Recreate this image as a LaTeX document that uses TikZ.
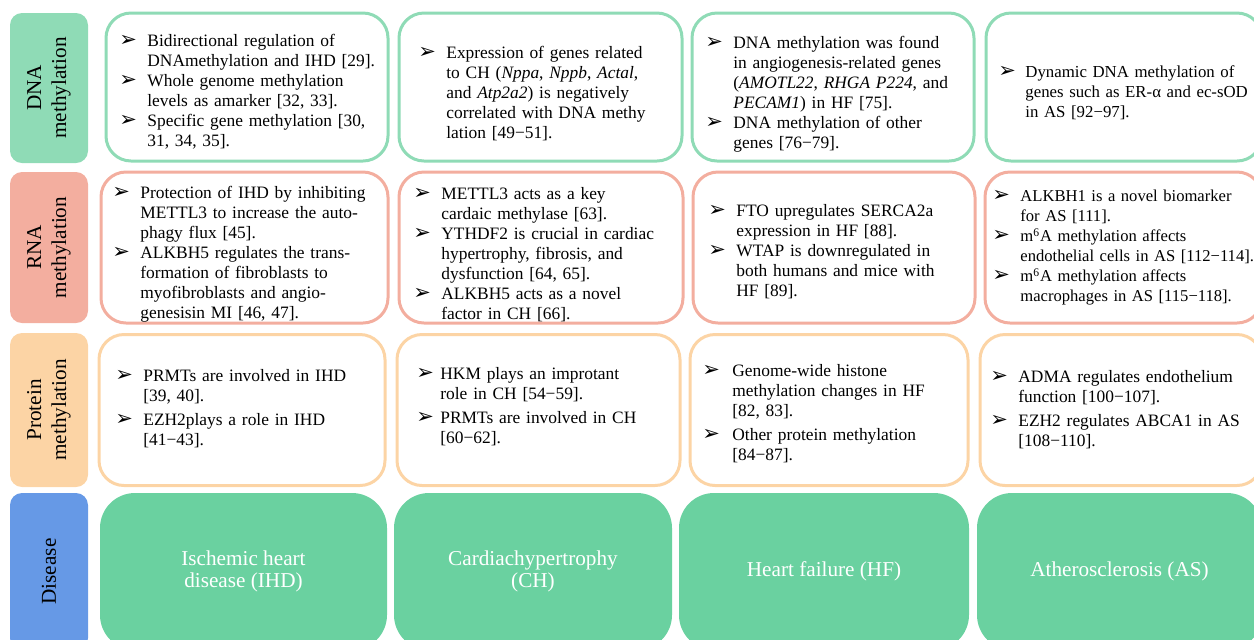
\documentclass[tikz,border=0pt]{standalone}
\usepackage{fontspec}
\setmainfont{Liberation Serif}
\newfontfamily\bulfont{DejaVu Sans}

\definecolor{dnagreen}{HTML}{8FDBB6}
\definecolor{rnared}{HTML}{F3AE9F}
\definecolor{protorange}{HTML}{FCD4A5}
\definecolor{disgreen}{HTML}{6AD1A0}
\definecolor{disblue}{HTML}{6699E6}

\newlength\bulind
\setlength\bulind{14pt}
\newlength\itmgap
\setlength\itmgap{0pt}
\newcommand\itm[1]{\par{\def\\{\hfil\break}\hangindent=\bulind\hangafter=1\noindent\makebox[\bulind][l]{\bulfont\fontsize{10.5}{10}\selectfont ➢}#1\par}\vskip\itmgap}

\begin{document}
\begin{tikzpicture}[x=0.5pt,y=-0.5pt,
    lab/.style={rotate=90, fill=#1, rounded corners=6pt, minimum height=39pt, inner sep=0, align=center, font=\fontsize{10.6}{12.5}\selectfont},
    cell/.style={draw=#1, line width=1.5pt, rounded corners=12.5pt, fill=white, inner sep=0},
    txt/.style={anchor=west, inner sep=0, text width=140pt, align=left, font=\fontsize{8.7}{10}\selectfont},
    ptxt/.style={txt, execute at begin node={\setlength\itmgap{2pt}\setlength\bulind{#1}}},
    dis/.style={fill=disgreen, rounded corners=17.5pt, inner sep=0, minimum height=78.5pt, text=white, align=center, font=\fontsize{10.6}{11}\selectfont}]
    \useasboundingbox (0,0) rectangle (1254,639);
    \clip (0,0) rectangle (1254,639);

    % row labels
    \node[lab=dnagreen, minimum width=75pt] (ldna) at (49,88) {DNA\\methylation};
    \node[lab=rnared, minimum width=75.5pt] (lrna) at (49,247.5) {RNA\\methylation};
    \node[lab=protorange, minimum width=77pt] (lprot) at (49,410) {Protein\\methylation};
    \node[lab=disblue, minimum width=78.5pt] (ldis) at (49,571.5) {Disease};

    % DNA methylation
    \node[cell=dnagreen, minimum width=141pt, minimum height=74pt] (d1) at (247,87) {};
    \node[cell=dnagreen, minimum width=141.5pt, minimum height=74pt] (d2) at (540.5,87) {};
    \node[cell=dnagreen, minimum width=141pt, minimum height=74pt] (d3) at (833,87) {};
    \node[cell=dnagreen, minimum width=138pt, minimum height=74pt] (d4) at (1124,87) {};
    \node[txt] (d1t) at (119,88) {\itm{Bidirectional regulation of\\DNAmethylation and IHD [29].}\itm{Whole genome methylation\\levels as amarker [32, 33].}\itm{Specific gene methylation [30,\\31, 34, 35].}};
    \node[txt] (d2t) at (418,89.5) {\itm{Expression of genes related\\to CH (\textit{Nppa}, \textit{Nppb}, \textit{Actal},\\and \textit{Atp2a2}) is negatively\\correlated with DNA methy\\lation [49−51].}};
    \node[txt] (d3t) at (705,90.5) {\itm{DNA methylation was found\\in angiogenesis-related genes\\(\textit{AMOTL22}, \textit{RHGA P224}, and\\\textit{PECAM1}) in HF [75].}\itm{DNA methylation of other\\genes [76−79].}};
    \node[txt, font=\fontsize{8.4}{10}\selectfont, execute at begin node={\setlength\bulind{13.5pt}}] (d4t) at (998,89) {\itm{Dynamic DNA methylation of\\genes such as ER-α and ec-sOD\\in AS [92−97].}};

    % RNA methylation
    \node[cell=rnared, minimum width=143.5pt, minimum height=75.5pt] (r1) at (244.5,247.5) {};
    \node[cell=rnared, minimum width=142pt, minimum height=75.5pt] (r2) at (541,247.5) {};
    \node[cell=rnared, minimum width=141pt, minimum height=75.5pt] (r3) at (834,247.5) {};
    \node[cell=rnared, minimum width=138.5pt, minimum height=75.5pt] (r4) at (1123.5,247.5) {};
    \node[txt] (r1t) at (112,250.5) {\itm{Protection of IHD by inhibiting\\METTL3 to increase the auto-\\phagy flux [45].}\itm{ALKBH5 regulates the trans-\\formation of fibroblasts to\\myofibroblasts and angio-\\genesisin MI [46, 47].}};
    \node[txt] (r2t) at (413,250.5) {\itm{METTL3 acts as a key\\cardaic methylase [63].}\itm{YTHDF2 is crucial in cardiac\\hypertrophy, fibrosis, and\\dysfunction [64, 65].}\itm{ALKBH5 acts as a novel\\factor in CH [66].}};
    \node[txt] (r3t) at (708,248) {\itm{FTO upregulates SERCA2a\\expression in HF [88].}\itm{WTAP is downregulated in\\both humans and mice with\\HF [89].}};
    \node[txt, font=\fontsize{8.3}{10}\selectfont] (r4t) at (992,243.5) {\itm{ALKBH1 is a novel biomarker\\for AS [111].}\itm{m\textsuperscript{6}A methylation affects\\endothelial cells in AS [112−114].}\itm{m\textsuperscript{6}A methylation affects\\macrophages in AS [115−118].}};

    % protein methylation
    \node[cell=protorange, minimum width=143pt, minimum height=75.5pt] (p1) at (242,410) {};
    \node[cell=protorange, minimum width=141.5pt, minimum height=75.5pt] (p2) at (538.5,410) {};
    \node[cell=protorange, minimum width=139pt, minimum height=75.5pt] (p3) at (829,410) {};
    \node[cell=protorange, minimum width=141pt, minimum height=75.5pt] (p4) at (1121,410) {};
    \node[ptxt=14pt] (p1t) at (115,405) {\itm{PRMTs are involved in IHD\\{}[39, 40].}\itm{EZH2plays a role in IHD\\{}[41−43].}};
    \node[ptxt=12pt] (p2t) at (416,402.5) {\itm{HKM plays an improtant\\role in CH [54−59].}\itm{PRMTs are involved in CH\\{}[60−62].}};
    \node[ptxt=15pt] (p3t) at (702,410) {\itm{Genome-wide histone\\methylation changes in HF\\{}[82, 83].}\itm{Other protein methylation\\{}[84−87].}};
    \node[ptxt=14pt] (p4t) at (990,405.5) {\itm{ADMA regulates endothelium\\function [100−107].}\itm{EZH2 regulates ABCA1 in AS\\{}[108−110].}};

    % disease
    \node[dis, minimum width=143.5pt] (s1) at (243.5,571.5) {Ischemic heart\\disease (IHD)};
    \node[dis, minimum width=139pt] (s2) at (533,571.5) {Cardiachypertrophy\\(CH)};
    \node[dis, minimum width=145pt] (s3) at (824,571.5) {Heart failure (HF)};
    \node[dis, minimum width=142.5pt] (s4) at (1119.5,571.5) {Atherosclerosis (AS)};
\end{tikzpicture}
\end{document}
